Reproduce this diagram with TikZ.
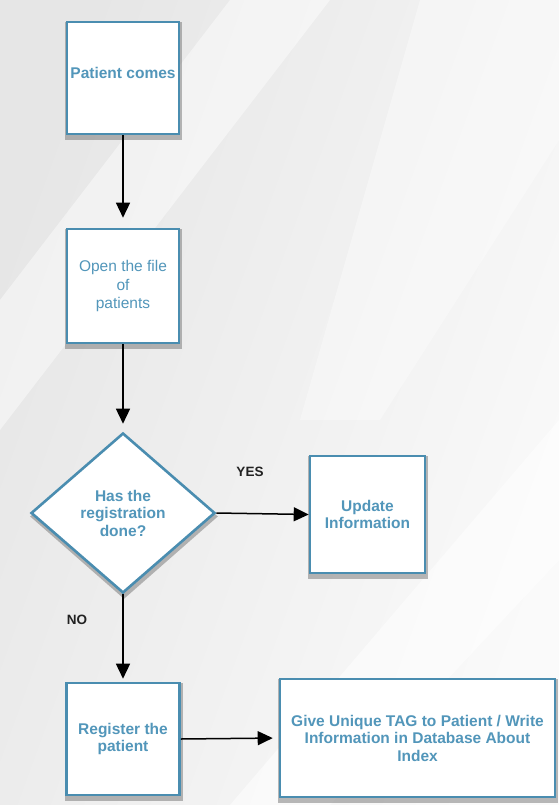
\documentclass[tikz,border=0pt]{standalone}
\usepackage{fontspec}
\setmainfont{Liberation Sans}
\usetikzlibrary{shapes.geometric,arrows.meta}
\definecolor{boxblue}{RGB}{74,141,176}
\definecolor{txtblue}{RGB}{82,150,186}
\definecolor{bggray}{RGB}{230,230,230}
\definecolor{bgwhite}{RGB}{250,250,250}
\definecolor{lblcol}{RGB}{34,34,34}
\pgfdeclarelayer{bglayer}
\pgfdeclarelayer{shadowlayer}
\pgfsetlayers{bglayer,shadowlayer,main}
\begin{document}
\begin{tikzpicture}[x=1pt,y=-1pt,
  flowbox/.style={draw=boxblue,line width=2.6pt,fill=white,inner sep=2pt,
    align=center,text=txtblue,font=\fontsize{15.5}{17.5}\selectfont\bfseries},
  decision/.style={flowbox,diamond,inner sep=0pt,minimum width=184pt,minimum height=160pt},
  shadowfill/.style={fill=black!55,opacity=0.5},
  conn/.style={draw=black,line width=1.5pt,-{Triangle[width=14pt,length=15pt]}},
  lbl/.style={text=lblcol,font=\fontsize{13.5}{16}\selectfont\bfseries}]
% background
\begin{pgfonlayer}{bglayer}
\useasboundingbox (0,0) rectangle (559,805);
\shade[left color=bggray,right color=bgwhite,shading angle=70] (0,0) rectangle (559,805);
\fill[white,opacity=0.45] (230,0) -- (330,0) -- (0,430) -- (0,300) -- cycle;
\fill[white,opacity=0.55] (559,420) -- (559,560) -- (330,805) -- (230,805) -- cycle;
\fill[white,opacity=0.35] (420,0) -- (559,0) -- (559,140) -- (380,420) -- (300,420) -- cycle;
\end{pgfonlayer}
% nodes
\node[flowbox,minimum width=112pt,minimum height=112pt] (p1) at (123,78) {\raisebox{10pt}{Patient comes}};
\node[flowbox,minimum width=112pt,minimum height=114pt,font=\fontsize{15.5}{18.5}\selectfont] (p2) at (123,286) {Open the file\\of\\patients};
\node[decision] (d1) at (123,513) {Has the\\registration\\done?};
\node[flowbox,minimum width=115pt,minimum height=117pt] (up) at (367.5,514.5) {Update\\Information};
\node[flowbox,minimum width=113pt,minimum height=112pt] (rg) at (123,739) {Register the\\patient};
\node[flowbox,minimum width=275pt,minimum height=118pt] (gv) at (417.5,738) {Give Unique TAG to Patient / Write\\Information in Database About\\Index};
% shadows
\begin{pgfonlayer}{shadowlayer}
\foreach \n in {p1,p2,up,rg,gv}{
  \fill[shadowfill] ([shift={(-0.5,1)}]\n.north west) rectangle ([shift={(2,4.5)}]\n.south east);
}
\fill[shadowfill] ([shift={(1,3.5)}]d1.north) -- ([shift={(1.5,3.5)}]d1.east) -- ([shift={(1,4.5)}]d1.south) -- ([shift={(0.5,3.5)}]d1.west) -- cycle;
\end{pgfonlayer}
% labels
\node[lbl] (yes) at (250,472) {YES};
\node[lbl] (no) at (77,620) {NO};
% connectors
\draw[conn,shorten >=10pt] (p1.south) -- (p2.north);
\draw[conn,shorten >=8pt] (p2.south) -- (d1.north);
\draw[conn] (d1.east) -- (up.west);
\draw[conn,shorten >=3pt] (d1.south) -- (rg.north);
\draw[conn,shorten >=6pt] (rg.east) -- (gv.west);
\end{tikzpicture}
\end{document}
